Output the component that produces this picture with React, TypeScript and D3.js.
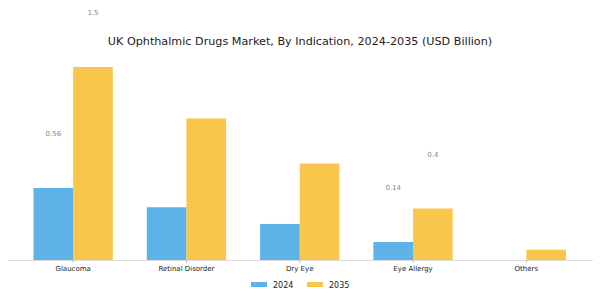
import React from 'react'
import * as d3 from 'd3'

const categories = ['Glaucoma', 'Retinal Disorder', 'Dry Eye', 'Eye Allergy', 'Others']
const seriesNames = ['2024', '2035']
const values2024 = [0.56, 0.41, 0.28, 0.14, 0.0]
const values2035 = [1.5, 1.1, 0.75, 0.4, 0.08]
// only some bars carry a value label in the original
const labelled2024 = [0.56, null, null, 0.14, null]
const labelled2035 = [1.5, null, null, 0.4, null]
const colors = ['#5db3e7', '#f9c54b']

const W = 600
const H = 300

export default function App() {
    const baseline = 260
    const x = d3.scaleBand<string>()
        .domain(categories)
        .range([16.5, 583])
        .paddingInner(0)
        .paddingOuter(0)
    const bw = x.bandwidth() * 0.35
    const y = d3.scaleLinear().domain([0, 1.5]).range([baseline, 67])

    const series = [values2024, values2035]
    const labels = [labelled2024, labelled2035]
    const font = 'DejaVu Sans, sans-serif'

    return (
        <svg width={W} height={H} style={{ position: 'absolute', left: 0, top: 0 }}>
            <rect width={W} height={H} fill="#fff" />
            <text x={300} y={44.5} textAnchor="middle" fontFamily={font} fontSize={11.2} fill="#222">
                UK Ophthalmic Drugs Market, By Indication, 2024-2035 (USD Billion)
            </text>
            {series.map((vals, si) => (
                <g key={`s-${si}`}>
                    {vals.map((v, i) => {
                        const cx = (x(categories[i]) as number) + x.bandwidth() / 2
                        const bx = si === 0 ? cx - bw : cx
                        return <rect key={i} x={bx} y={y(v)} width={bw} height={baseline - y(v)} fill={colors[si]} />
                    })}
                </g>
            ))}
            {series.map((vals, si) => (
                <g key={`l-${si}`}>
                    {labels[si].map((lab, i) => {
                        if (lab === null) return null
                        const cx = (x(categories[i]) as number) + x.bandwidth() / 2
                        const bx = si === 0 ? cx - bw / 2 : cx + bw / 2
                        return <text key={i} x={bx} y={y(vals[i]) - 52} textAnchor="middle"
                                     fontFamily={font} fontSize={7} fill="#888">{lab}</text>
                    })}
                </g>
            ))}
            <line x1={8} x2={593} y1={baseline + 0.5} y2={baseline + 0.5} stroke="#ddd" />
            {categories.map((c) => {
                const cx = (x(c) as number) + x.bandwidth() / 2
                return (
                    <g key={c}>
                        <line x1={cx} x2={cx} y1={baseline} y2={baseline + 3} stroke="#999" strokeWidth={0.6} />
                        <text x={cx} y={baseline + 10.5} textAnchor="middle" fontFamily={font} fontSize={7} fill="#222">{c}</text>
                    </g>
                )
            })}
            {seriesNames.map((s, i) => (
                <g key={s} transform={`translate(${251 + i * 56},282)`}>
                    <rect x={0} y={0} width={16} height={5} fill={colors[i]} />
                    <text x={22} y={6} fontFamily={font} fontSize={8} fill="#222">{s}</text>
                </g>
            ))}
        </svg>
    )
}
